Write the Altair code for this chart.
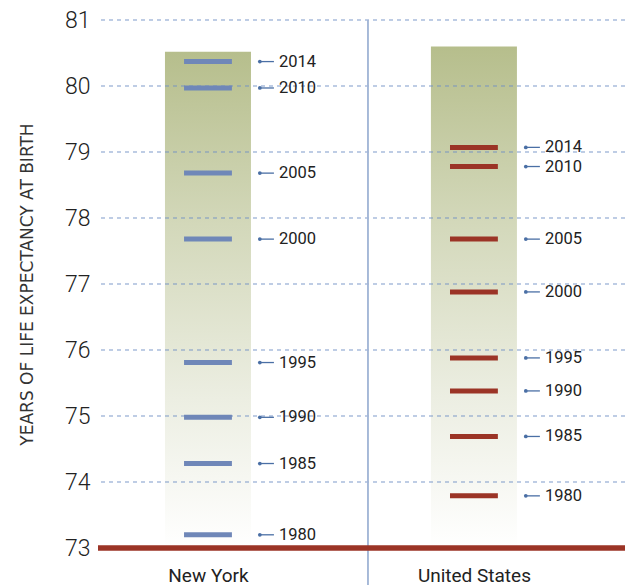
import altair as alt
import pandas as pd

years = [1980, 1985, 1990, 1995, 2000, 2005, 2010, 2014]
ny_values = [73.20, 74.28, 74.98, 75.81, 77.68, 78.68, 79.97, 80.37]
us_values = [73.79, 74.69, 75.38, 75.88, 76.88, 77.68, 78.78, 79.07]
regions = ["New York", "United States"]
bar_tops = [80.52, 80.60]
y_ticks = [73, 74, 75, 76, 77, 78, 79, 80, 81]
grid_values = [74, 75, 76, 77, 78, 79, 80, 81]
y_title = "YEARS OF LIFE EXPECTANCY AT BIRTH"

W, H = 527, 528
XDOM = [-0.4135, 1.568]
YDOM = [73, 81]

rows = []
for i, (name, vals) in enumerate([(regions[0], ny_values), (regions[1], us_values)]):
    for yr, v in zip(years, vals):
        rows.append({"region": name, "pos": i, "year": str(yr), "value": v})
df = pd.DataFrame(rows)
bars = pd.DataFrame({"region": regions, "pos": [0, 1], "top": bar_tops, "base": [73, 73]})
grid_df = pd.DataFrame({"g": grid_values})

xs = alt.Scale(domain=XDOM, nice=False, zero=False)
ys = alt.Scale(domain=YDOM, nice=False, zero=False)

grad = {
    "gradient": "linear", "x1": 0, "y1": 1, "x2": 0, "y2": 0,
    "stops": [
        {"offset": 0, "color": "#ffffff"},
        {"offset": 0.3, "color": "#eceee2"},
        {"offset": 0.65, "color": "#d3d8ba"},
        {"offset": 1, "color": "#b6be8c"},
    ],
}

bar_layer = alt.Chart(bars).transform_calculate(
    x1="datum.pos - 0.1617", x2="datum.pos + 0.1617"
).mark_rect(color=grad).encode(
    x=alt.X("x1:Q", scale=xs, axis=alt.Axis(
        values=[0, 1], labelExpr="datum.value == 0 ? 'New York' : 'United States'",
        grid=False, domain=False, ticks=False, labelFontSize=19, labelFont="Roboto",
        labelColor="#222222", labelPadding=18, title=None)),
    x2="x2:Q",
    y=alt.Y("base:Q", scale=ys, axis=alt.Axis(
        values=y_ticks, format="d", grid=False,
        domain=False, ticks=False, labelFontSize=23, labelFont="Roboto", labelFontWeight=300,
        labelColor="#222222", labelPadding=8, title=y_title, titleFont="DejaVu Sans",
        titleFontSize=17, titleFontWeight="normal", titleColor="#333333", titlePadding=28)),
    y2="top:Q",
)

grid_layer = alt.Chart(grid_df).mark_rule(
    strokeWidth=1, strokeDash=[4, 4], color="#6f8fc4", opacity=0.9
).encode(y=alt.Y("g:Q", scale=ys))

dash_layer = alt.Chart(df).transform_calculate(
    xa="datum.pos - 0.09", xb="datum.pos + 0.09"
).mark_rule(strokeWidth=5, strokeCap="butt").encode(
    x=alt.X("xa:Q", scale=xs), x2="xb:Q",
    y=alt.Y("value:Q", scale=ys),
    color=alt.Color("region:N", scale=alt.Scale(domain=regions, range=["#6f87b8", "#9b3426"]), legend=None),
)

conn_layer = alt.Chart(df).transform_calculate(
    xa="datum.pos + 0.195", xb="datum.pos + 0.248"
).mark_rule(strokeWidth=1.3, color="#4a6fa5").encode(
    x=alt.X("xa:Q", scale=xs), x2="xb:Q", y=alt.Y("value:Q", scale=ys),
)

dot_layer = alt.Chart(df).transform_calculate(
    xa="datum.pos + 0.195"
).mark_circle(size=14, color="#4a6fa5", opacity=1).encode(
    x=alt.X("xa:Q", scale=xs), y=alt.Y("value:Q", scale=ys),
)

text_layer = alt.Chart(df).transform_calculate(
    xa="datum.pos + 0.267"
).mark_text(align="left", baseline="middle", fontSize=16.5, font="Roboto", color="#222222").encode(
    x=alt.X("xa:Q", scale=xs), y=alt.Y("value:Q", scale=ys), text="year:N",
)

base_line = alt.Chart(bars).mark_rule(strokeWidth=5, color="#9b3426").encode(
    y=alt.datum(73, scale=ys),
)

sep_line = alt.Chart(bars).mark_rule(strokeWidth=1.5, color="#a3b6d6").encode(
    x=alt.datum(0.6015, scale=xs), y=alt.value(0), y2=alt.value(H + 37),
)

chart = alt.layer(
    bar_layer, grid_layer, sep_line, dash_layer, conn_layer, dot_layer, text_layer, base_line
).properties(
    width=W, height=H,
    autosize=alt.AutoSizeParams(type="none"),
    padding={"left": 90, "top": 12, "right": 0, "bottom": 37},
).configure_view(stroke=None)

chart.save("out.html", embed_options={"renderer": "svg", "actions": False})
